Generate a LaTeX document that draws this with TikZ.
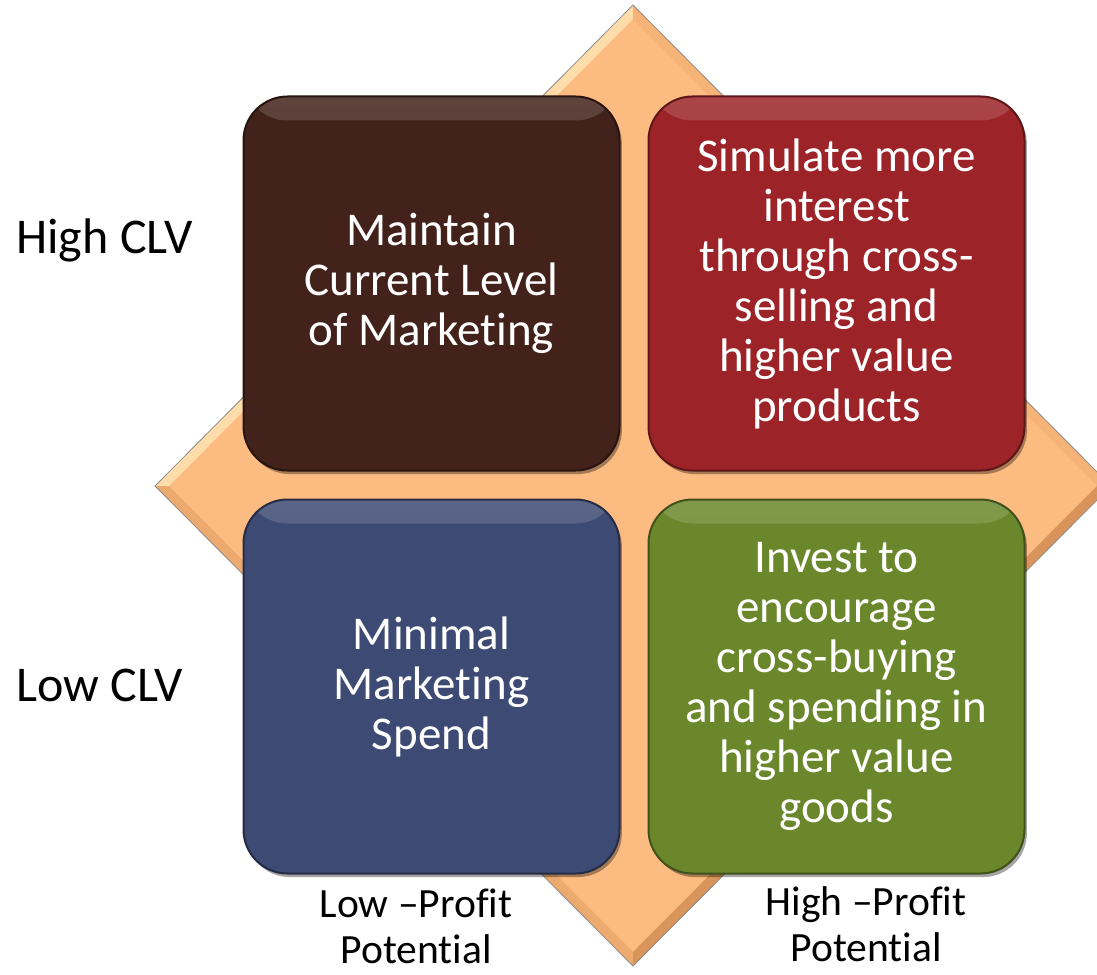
\documentclass[tikz,border=0pt]{standalone}
\usepackage{fontspec}
\setmainfont{Carlito}[Ligatures={TeX,NoCommon}]
\usetikzlibrary{positioning}
\definecolor{peach}{HTML}{FCBB80}
\definecolor{peachlight}{HTML}{FFDDAA}
\definecolor{peachdark}{HTML}{D8945A}
\definecolor{quadbrown}{HTML}{43221B}
\definecolor{quadred}{HTML}{9C2428}
\definecolor{quadblue}{HTML}{3D4A73}
\definecolor{quadgreen}{HTML}{6B872B}
\tikzset{
    %Define style for the rounded boxes
    quad/.style={
        rectangle,
        rounded corners=22pt,
        minimum width=188pt,
        minimum height=187pt,
        inner sep=0pt,
        align=center,
        text=white,
        font=\fontsize{23.5}{25}\selectfont,
        fill=#1,
        draw=#1!60!black, line width=1pt,
        preaction={fill=black, fill opacity=0.35,
            transform canvas={shift={(1.2pt,-1.8pt)}}},
        path picture={
            \shade[top color=white, bottom color=#1, opacity=0.15]
              (path picture bounding box.north west) rectangle
              ([yshift=-12pt]path picture bounding box.north east);
        }
    },
    %Define style for the axis captions
    axis/.style={
        inner sep=0pt,
        font=\fontsize{25}{27}\selectfont
    },
    foot/.style={
        inner sep=0pt,
        align=center,
        font=\fontsize{20.8}{23}\selectfont
    },
}

\begin{document}
\begin{tikzpicture}[x=0.5pt,y=-0.5pt]
\useasboundingbox (0,0) rectangle (1097,974);
%diamond behind the grid
\coordinate (dt) at (633,5);
\coordinate (dl) at (155,486);
\coordinate (db) at (633,966);
\coordinate (dr) at (1111,486);
\coordinate (it) at (633,19);
\coordinate (il) at (169,486);
\coordinate (ib) at (633,952);
\coordinate (ir) at (1097,486);
\fill[peach] (dt) -- (dr) -- (db) -- (dl) -- cycle;
\fill[peachlight] (dt) -- (it) -- (il) -- (dl) -- cycle;
\fill[peach!80!peachdark] (dt) -- (dr) -- (ir) -- (it) -- cycle;
\fill[peachdark] (dr) -- (db) -- (ib) -- (ir) -- cycle;
\fill[peach!55!peachdark] (db) -- (dl) -- (il) -- (ib) -- cycle;
\draw[black!45, line width=0.4pt] (dt) -- (dr) -- (db) -- (dl) -- cycle;
%boxes
\node[quad=quadbrown] (hold) at (431.5,283.5) {Maintain\\Current Level\\of Marketing};
\node[quad=quadred, right=13.5pt of hold] (grow) {Simulate more\\interest\\through cross-\\selling and\\higher value\\products};
\node[quad=quadblue, below=13.5pt of hold] (minimal) {Minimal\\Marketing\\Spend};
\node[quad=quadgreen, right=13.5pt of minimal] (invest) {Invest to\\encourage\\cross-buying\\and spending in\\higher value\\goods};
%captions
\node[axis, anchor=base west] (hiclv) at (16,253) {High CLV};
\node[axis, anchor=base west] (loclv) at (16,701) {Low CLV};
\node[foot, anchor=north] (loprofit) at (416,888) {Low –Profit\\Potential};
\node[foot, anchor=north] (hiprofit) at (866,886) {High –Profit\\Potential};
\end{tikzpicture}
\end{document}
